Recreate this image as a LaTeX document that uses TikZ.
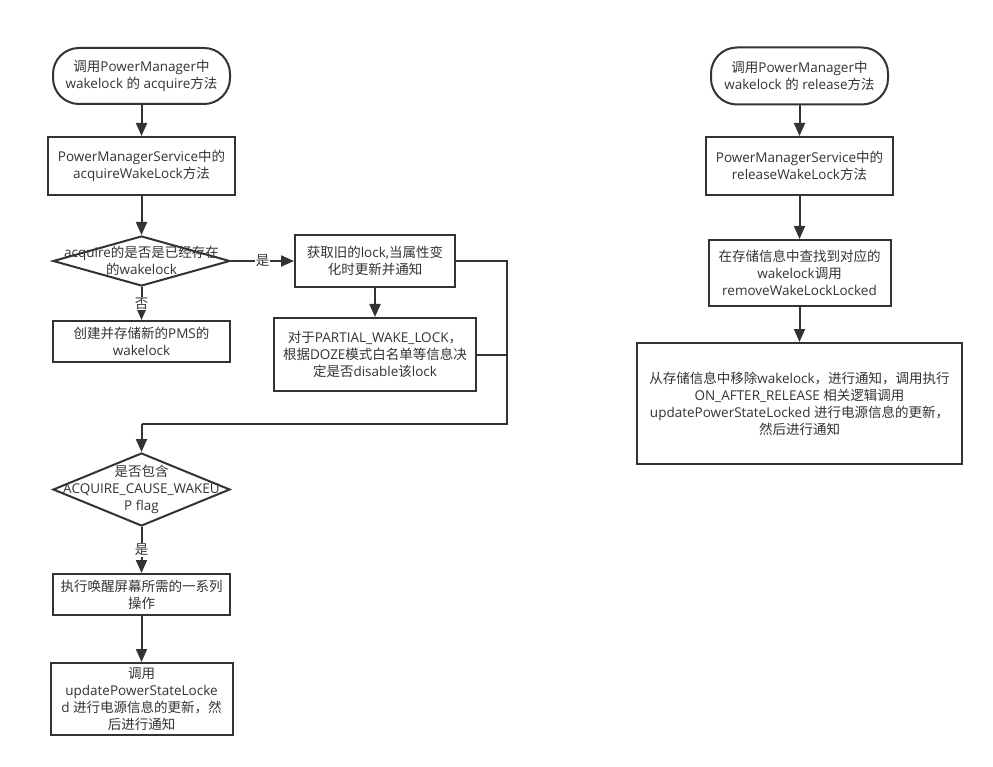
\documentclass[tikz,border=0pt]{standalone}
\usepackage{fontspec}
\setmainfont{Open Sans}
\newfontfamily\cjkfont{Noto Sans CJK SC}
\usetikzlibrary{arrows.meta,shapes.geometric}
\definecolor{ink}{HTML}{333333}

% switch to the CJK family automatically for Han characters and CJK punctuation
\XeTeXinterchartokenstate=1
\newXeTeXintercharclass\CJKcls
\newcount\cjkc
\def\setcjkrange#1#2{\cjkc=#1\relax
  \loop\XeTeXcharclass\cjkc=\CJKcls\relax
  \ifnum\cjkc<#2\advance\cjkc by 1\repeat}
\setcjkrange{"3000}{"303F}
\setcjkrange{"4E00}{"9FFF}
\setcjkrange{"FF00}{"FFEF}
\XeTeXinterchartoks 0 \CJKcls = {\begingroup\cjkfont}
\XeTeXinterchartoks 4095 \CJKcls = {\begingroup\cjkfont}
\XeTeXinterchartoks \CJKcls 0 = {\endgroup}
\XeTeXinterchartoks \CJKcls 4095 = {\endgroup}

\begin{document}
\begin{tikzpicture}[x=1pt,y=-1pt,
  every node/.style={font=\fontsize{13.5}{17}\selectfont, text=ink, align=center, inner sep=0pt},
  box/.style={draw=ink, line width=2pt, rectangle},
  term/.style={draw=ink, line width=2pt, rectangle, rounded corners=26pt},
  dia/.style={draw=ink, line width=2pt, diamond, inner sep=0pt},
  flow/.style={draw=ink, line width=2pt, -{Triangle[length=13pt,width=11pt]}},
  plain/.style={draw=ink, line width=2pt},
  lbl/.style={fill=white, inner sep=1pt}]
\useasboundingbox (0,0) rectangle (993,767);

% acquire path
\node[term, minimum width=177pt, minimum height=56pt] (s1) at (141.5,76) {调用PowerManager中\\wakelock 的 acquire方法};
\node[box, minimum width=187pt, minimum height=58pt] (b1) at (141.5,166) {PowerManagerService中的\\acquireWakeLock方法};
\node[dia, minimum width=177pt, minimum height=50pt] (d1) at (141.5,261) {};
\node at (d1) {acquire的是否是已经存在\\的wakelock};
\node[box, minimum width=177pt, minimum height=41pt] (c1) at (141.5,341.5) {创建并存储新的PMS的\\wakelock};
\node[box, minimum width=160pt, minimum height=52pt] (l1) at (375,261) {获取旧的lock,当属性变\\化时更新并通知};
\node[box, minimum width=202pt, minimum height=73pt] (l2) at (375,354.5) {对于PARTIAL\_WAKE\_LOCK，\\根据DOZE模式白名单等信息决\\定是否disable该lock};
\node[dia, minimum width=177pt, minimum height=73pt] (d2) at (141.5,489.5) {};
\node at (d2) {是否包含\\ACQUIRE\_CAUSE\_WAKEU\\P flag};
\node[box, minimum width=177pt, minimum height=41pt] (w1) at (141.5,594.5) {执行唤醒屏幕所需的一系列\\操作};
\node[box, minimum width=182pt, minimum height=72pt] (u1) at (141.5,699) {调用\\updatePowerStateLocke\\d 进行电源信息的更新，然\\后进行通知};

\coordinate (jr) at (507,424);
\coordinate (jl) at (141.5,424);

\draw[flow] (s1) -- (b1);
\draw[flow] (b1) -- (d1);
\draw[flow] (d1.east) -- node[lbl] {是} (l1.west);
\draw[flow] (d1.south) -- node[lbl] {否} (c1.north);
\draw[flow] (l1) -- (l2);
\draw[plain] (l1.east) -| (jr) -- (jl);
\draw[plain] (l2.east) -- (l2.east -| jr);
\draw[flow] (jl) -- (d2.north);
\draw[flow] (d2.south) -- node[lbl] {是} (w1.north);
\draw[flow] (w1) -- (u1);

% release path
\node[term, minimum width=177pt, minimum height=57pt] (s2) at (799.5,76) {调用PowerManager中\\wakelock 的 release方法};
\node[box, minimum width=187pt, minimum height=58pt] (b2) at (799.5,166) {PowerManagerService中的\\releaseWakeLock方法};
\node[box, minimum width=182pt, minimum height=66pt] (f2) at (799.5,273) {在存储信息中查找到对应的\\wakelock调用\\removeWakeLockLocked};
\node[box, minimum width=325pt, minimum height=121pt] (r2) at (799.5,403.5) {从存储信息中移除wakelock，进行通知，调用执行\\ON\_AFTER\_RELEASE 相关逻辑调用\\updatePowerStateLocked 进行电源信息的更新，\\然后进行通知};

\draw[flow] (s2) -- (b2);
\draw[flow] (b2) -- (f2);
\draw[flow] (f2) -- (r2);
\end{tikzpicture}
\end{document}
